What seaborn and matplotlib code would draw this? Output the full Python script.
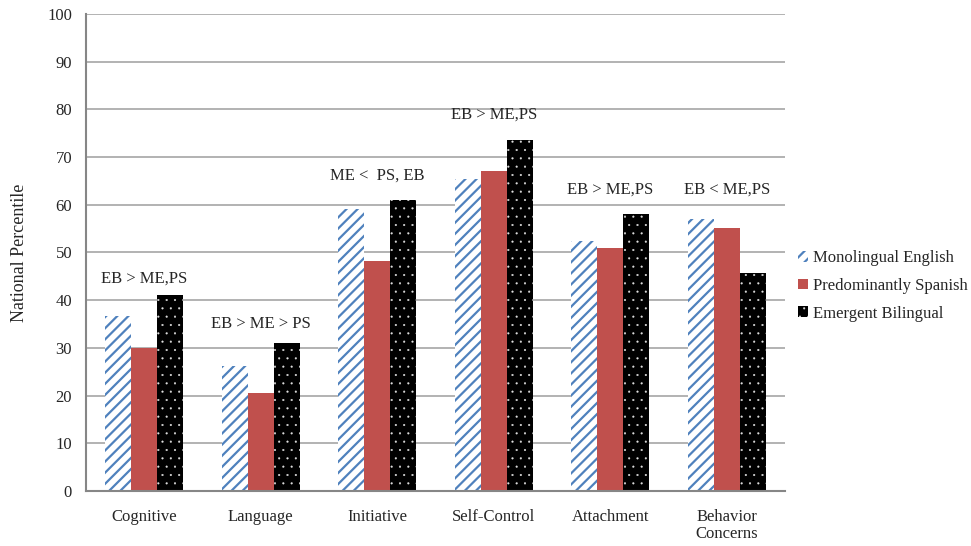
import numpy as np
import pandas as pd
import matplotlib
matplotlib.use("Agg")
import matplotlib.pyplot as plt
import seaborn as sns

# Données
categories = ["Cognitive", "Language", "Initiative", "Self-Control", "Attachment", "Behavior\nConcerns"]
groups = ["Monolingual English", "Predominantly Spanish", "Emergent Bilingual"]
me_vals = [36.7, 26.2, 59.1, 65.5, 52.4, 57.0]
ps_vals = [30.0, 20.6, 48.2, 67.0, 51.0, 55.2]
eb_vals = [41.1, 31.0, 61.0, 73.6, 58.1, 45.7]
notes = ["EB > ME,PS", "EB > ME > PS", "ME <  PS, EB", "EB > ME,PS", "EB > ME,PS", "EB < ME,PS"]
note_y = [44.6, 35.0, 66.2, 78.8, 63.1, 63.1]

df = pd.DataFrame({
    "categorie": categories * 3,
    "groupe": [g for g in groups for _ in categories],
    "valeur": me_vals + ps_vals + eb_vals,
})

sns.set_style("white")
plt.rcParams['font.family'] = ['Liberation Serif', 'DejaVu Serif']
plt.rcParams['hatch.linewidth'] = 1.6

fig = plt.figure(figsize=(9.71, 5.46), dpi=100)
ax = fig.add_axes([86 / 971, 1 - 491 / 546, 699 / 971, 477 / 546])

palette = {"Monolingual English": "white", "Predominantly Spanish": "#C0504D",
           "Emergent Bilingual": "black"}
sns.barplot(data=df, x="categorie", y="valeur", hue="groupe", order=categories,
            hue_order=groups, palette=palette, width=0.67, saturation=1,
            linewidth=0, ax=ax)

# Motifs : hachures bleues, aplat rouge, points blancs
styles = [("///", "#4F81BD", 1.6), ("", "#C0504D", 1.0), ("..", "#E0E0E0", 0.3)]
def appliquer_motif(p, hatch, ec, lw):
    p.set_hatch(hatch)
    p.set_edgecolor(ec)
    p.set_linewidth(0)
    if hasattr(p, "set_hatch_linewidth"):
        p.set_hatch_linewidth(lw)

for cont, st in zip(ax.containers, styles):
    for bar in cont:
        appliquer_motif(bar, *st)

# Annotations au-dessus des groupes
for i, (txt, y) in enumerate(zip(notes, note_y)):
    ax.text(i, y, txt, ha="center", va="center", fontsize=12, color="#262626")

ax.set_ylim(0, 100)
ax.set_xlim(-0.5, len(categories) - 0.5)
ax.set_yticks(range(0, 101, 10))
ax.yaxis.grid(True, color="#A6A6A6", linewidth=1.2)
ax.set_axisbelow(True)
ax.set_xlabel("")
ax.set_ylabel("National Percentile", fontsize=13, color="#262626", labelpad=14)

for s in ["top", "right"]:
    ax.spines[s].set_visible(False)
for s in ["left", "bottom"]:
    ax.spines[s].set_color("#868686")
    ax.spines[s].set_linewidth(1.5)

ax.tick_params(axis="y", length=5, color="#868686", labelsize=12, labelcolor="#262626", pad=5)
ax.tick_params(axis="x", which="major", length=0, labelsize=12, labelcolor="#262626", pad=13)
for lab in ax.get_xticklabels():
    lab.set_linespacing(1.1)
ax.set_xticks(np.arange(-0.5, len(categories)), minor=True)
ax.tick_params(axis="x", which="minor", length=5, color="#868686", width=1.2)

leg = ax.legend(loc="center left", bbox_to_anchor=(1.0, 0.43), frameon=False,
                fontsize=12, handlelength=0.6, handleheight=0.6, handletextpad=0.3,
                labelspacing=0.7, borderaxespad=0.4)
for h, st in zip(leg.legend_handles, styles):
    appliquer_motif(h, *st)
for t in leg.get_texts():
    t.set_color("#262626")

fig.savefig("out.png", dpi=100)
